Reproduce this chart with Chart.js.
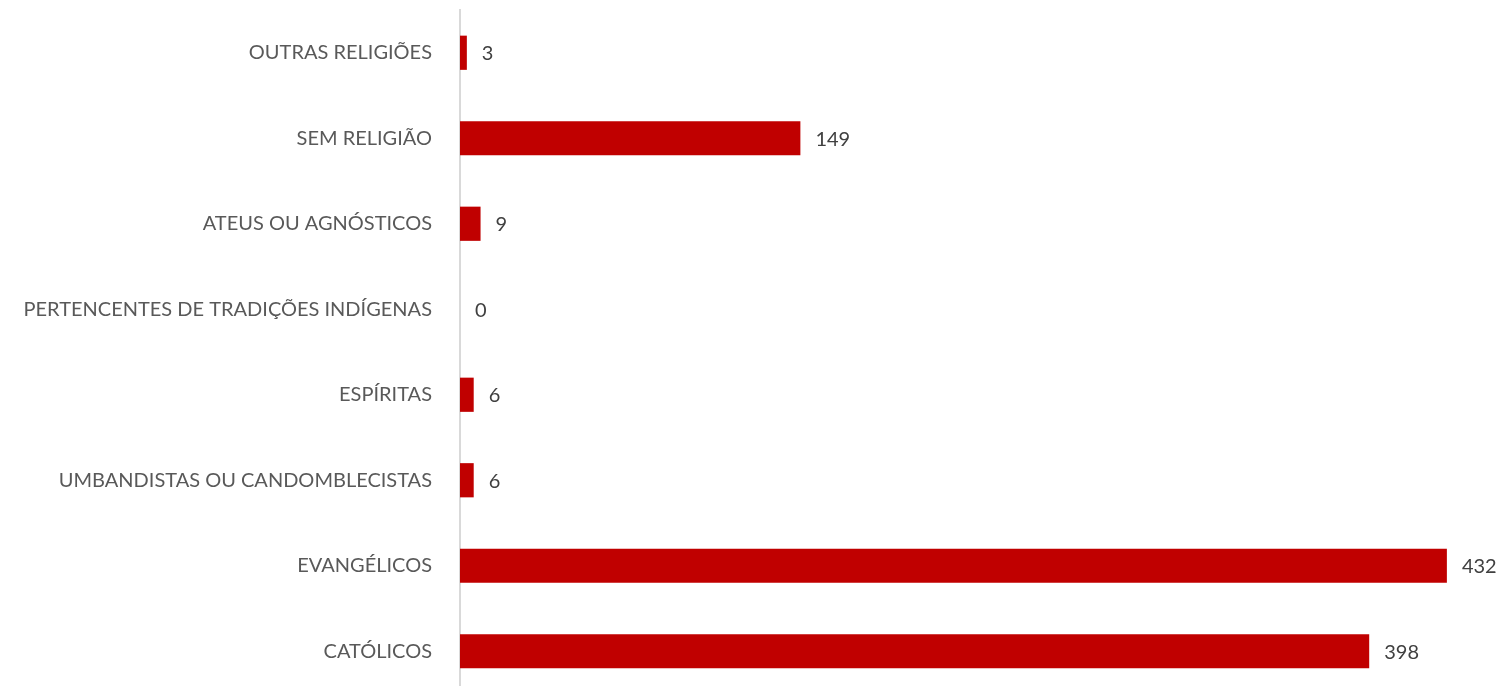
<!DOCTYPE html>
<html>
<head>
<meta charset="utf-8">
<script src="https://cdn.jsdelivr.net/npm/chart.js@4"></script>
<style>
  html, body { margin: 0; padding: 0; background: #fff; overflow: hidden; }
  canvas { display: block; }
</style>
</head>
<body>
<canvas id="c" width="1501" height="694" style="width:1501px;height:694px"></canvas>
<script>
const categories = [
  "OUTRAS RELIGIÕES",
  "SEM RELIGIÃO",
  "ATEUS OU AGNÓSTICOS",
  "PERTENCENTES DE TRADIÇÕES INDÍGENAS",
  "ESPÍRITAS",
  "UMBANDISTAS OU CANDOMBLECISTAS",
  "EVANGÉLICOS",
  "CATÓLICOS"
];
const values = [3, 149, 9, 0, 6, 6, 432, 398];

const FONT = "Lato, 'Open Sans', sans-serif";
const FONT_SIZE = 20;

const dataLabels = {
  id: 'dataLabels',
  afterDatasetsDraw(chart) {
    const ctx = chart.ctx;
    const meta = chart.getDatasetMeta(0);
    ctx.save();
    ctx.font = FONT_SIZE + "px " + FONT;
    ctx.fillStyle = "#404040";
    ctx.textAlign = "left";
    ctx.textBaseline = "middle";
    meta.data.forEach((bar, i) => {
      ctx.fillText(String(values[i]), bar.x + 15, bar.y + 1);
    });
    ctx.restore();
  }
};

new Chart(document.getElementById('c'), {
  type: 'bar',
  data: {
    labels: categories,
    datasets: [{
      data: values,
      backgroundColor: '#c00000',
      borderWidth: 0,
      barPercentage: 0.4,
      categoryPercentage: 1.0
    }]
  },
  options: {
    indexAxis: 'y',
    responsive: false,
    devicePixelRatio: 1,
    animation: false,
    layout: { padding: { top: 10, right: 13, bottom: 0, left: 0 } },
    plugins: { legend: { display: false }, tooltip: { enabled: false } },
    scales: {
      x: {
        display: false,
        min: 0,
        max: 450
      },
      y: {
        afterFit(scale) { scale.width = 460; scale.paddingTop = 0; scale.paddingBottom = 0; },
        grid: { display: false, drawTicks: false },
        border: { display: true, color: '#d9d9d9', width: 2 },
        ticks: {
          padding: 28,
          color: '#595959',
          font: { family: FONT, size: FONT_SIZE }
        }
      }
    }
  },
  plugins: [dataLabels]
});
</script>
</body>
</html>
